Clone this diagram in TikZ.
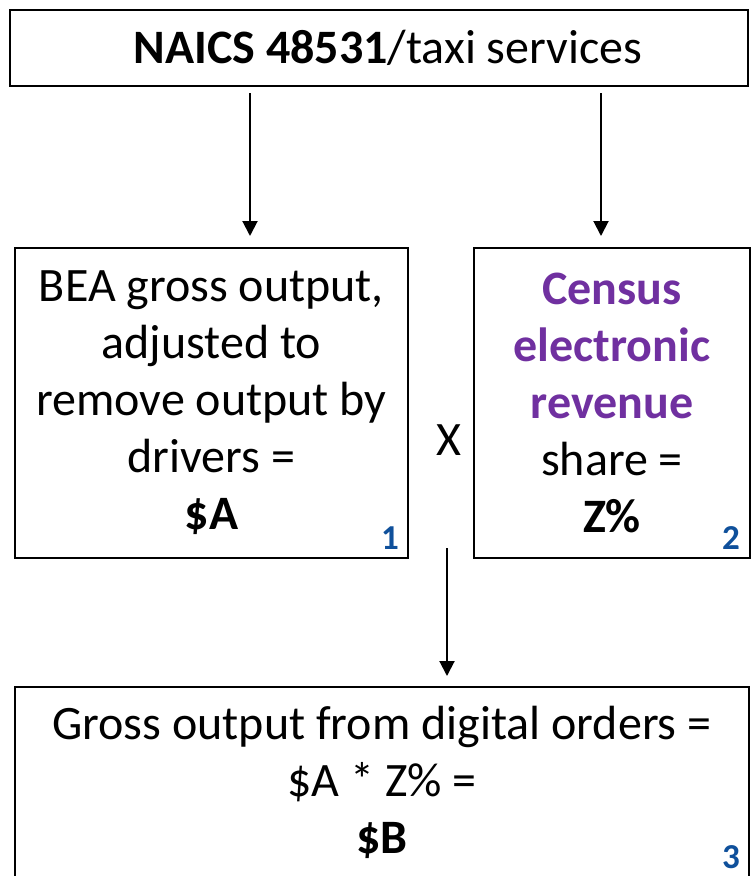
\documentclass[tikz,border=0pt]{standalone}
\usepackage{fontspec}
\setmainfont{Carlito}
\usetikzlibrary{arrows.meta}
\definecolor{censuspurple}{RGB}{112,48,160}
\definecolor{stepblue}{RGB}{15,80,155}
\tikzset{
  x=1pt, y=-1pt,
  box/.style={draw=black, line width=2pt, inner sep=0pt, align=center,
    font=\fontsize{48}{57}\selectfont},
  boxnum/.style={text=stepblue, font=\fontsize{35}{35}\selectfont\bfseries, inner sep=0pt},
  flow/.style={line width=2pt, -{Triangle[width=15pt,length=15pt]}},
}
\begin{document}
\begin{tikzpicture}
  \useasboundingbox (0,0) rectangle (751,876);
  \fill[white] (0,0) rectangle (751,876);

  % source industry
  \node[box, minimum width=738pt, minimum height=76pt] (top) at (379,48)
    {\hspace*{18pt}\textbf{NAICS 48531}/taxi services};

  % the two factors
  \node[box, minimum width=393pt, minimum height=310pt] (bea) at (211.5,403)
    {BEA gross output,\\adjusted to\\remove output by\\drivers =\\\textbf{\$A}};
  \node[box, minimum width=276pt, minimum height=310pt] (census) at (612,403)
    {\textcolor{censuspurple}{\textbf{Census}}\\\textcolor{censuspurple}{\textbf{electronic}}\\\textcolor{censuspurple}{\textbf{revenue}}\\share =\\\textbf{Z\%}};
  \node[font=\fontsize{48}{57}\selectfont, inner sep=0pt] (times) at (449,440) {X};

  % result
  \node[box, minimum width=734pt, minimum height=190pt] (result) at (382,782)
    {Gross output from digital orders =\\\$A * Z\% =\\\textbf{\$B}};

  % step numbers
  \node[boxnum] (n1) at ([xshift=-19pt,yshift=21pt]bea.south east) {1};
  \node[boxnum] (n2) at ([xshift=-20pt,yshift=21pt]census.south east) {2};
  \node[boxnum] (n3) at ([xshift=-19pt,yshift=21pt]result.south east) {3};

  % connectors
  \coordinate (a1) at (250,93);
  \coordinate (a2) at (601,93);
  \coordinate (a3) at (447,548);
  \draw[flow] (a1) -- ([yshift=11pt]a1 |- bea.north);
  \draw[flow] (a2) -- ([yshift=11pt]a2 |- census.north);
  \draw[flow] (a3) -- ([yshift=10pt]a3 |- result.north);
\end{tikzpicture}
\end{document}
